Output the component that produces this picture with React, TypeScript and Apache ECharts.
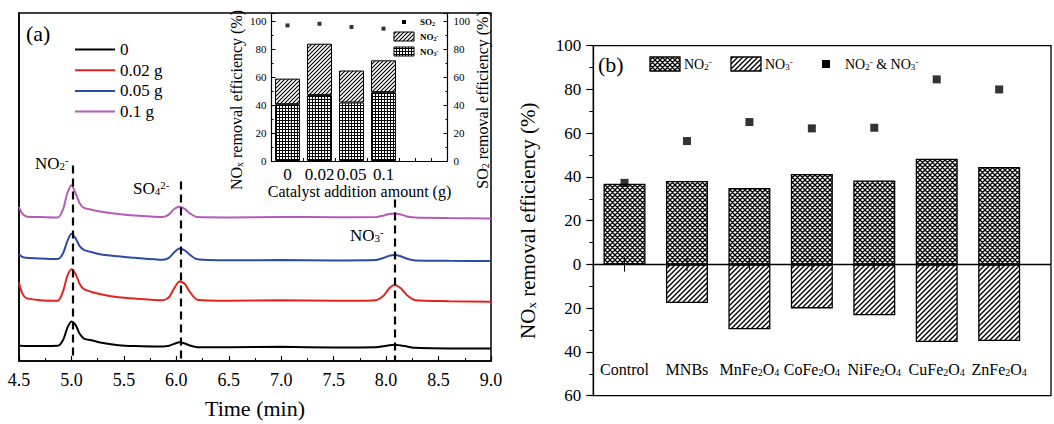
import React, { useEffect, useRef } from 'react';
import * as echarts from 'echarts';

const FONT = "'Liberation Serif', 'Times New Roman', serif";

// ---------------- Panel (a): ion chromatograms ----------------
const timeMin = [4.5, 4.53, 4.57, 4.7, 4.87, 4.92, 4.96, 5.0, 5.04, 5.08, 5.12, 5.2, 5.3, 5.45, 5.6, 5.87, 5.93, 5.98, 6.03, 6.08, 6.13, 6.2, 6.5, 7.0, 7.5, 7.9, 7.98, 8.03, 8.08, 8.14, 8.2, 8.28, 8.6, 9.0];
const signal0 = [15.3, 15.2, 15.1, 15.0, 15.2, 21, 33, 39.7, 36, 27, 22.5, 20.5, 18, 15.8, 15.0, 14.5, 15.2, 17.2, 18.7, 17.5, 15.5, 13.9, 13.8, 14.2, 13.6, 13.8, 14.8, 15.8, 16.3, 15.6, 14.5, 13.2, 12.6, 12.5];
const signal002 = [78.7, 68, 63, 61, 60.5, 70, 85, 92, 87, 77, 72, 69, 66.5, 64, 62.7, 61, 64, 73, 79.7, 77.5, 69, 61.5, 60.5, 60.8, 60.3, 61, 66, 73, 76.3, 73, 66, 61, 60, 59.5];
const signal005 = [107, 104.5, 103.5, 102.8, 102.3, 108, 120, 127.7, 123, 115, 111.5, 109, 106.5, 105, 103.5, 101.5, 103.5, 109, 112.7, 111, 106.5, 102, 101, 101.3, 100.8, 101.2, 103.5, 105.5, 106.3, 105, 102.5, 100.8, 100.5, 100.3];
const signal01 = [154.3, 148, 145, 144.3, 143.8, 152, 168, 176.3, 168, 158, 153.5, 151.5, 149.5, 147.5, 146, 144.3, 147, 152.5, 154.7, 152.5, 148, 144.3, 144, 144.5, 144.2, 144.3, 146, 147.5, 148, 147, 145, 143.8, 143.3, 143];
const traceNames = ['0', '0.02 g', '0.05 g', '0.1 g'];
const traceColors = ['#000000', '#e3231f', '#2d4aa6', '#b45cb8'];
const traceSignals = [signal0, signal002, signal005, signal01];
const peakTimes = [5.01, 6.04, 8.08];
const peakLineTops = [196, 180, 162];
const signalMax = 349;

// ---------------- Inset: removal vs catalyst amount ----------------
const catalystAmounts = ['0', '0.02', '0.05', '0.1'];
const insetNO3 = [40.7, 47.2, 41.9, 49.3];
const insetNO2 = [18.3, 36.8, 22.9, 22.8];
const insetSO2 = [97.1, 98.3, 96.0, 94.8];

// ---------------- Panel (b): different catalysts ----------------
const catalystLabels = ['Control', 'MNBs', 'MnFe{s|2}O{s|4}', 'CoFe{s|2}O{s|4}', 'NiFe{s|2}O{s|4}', 'CuFe{s|2}O{s|4}', 'ZnFe{s|2}O{s|4}'];
const no2Removal = [36.9, 38.2, 34.9, 41.4, 38.4, 48.3, 44.6];
const no3Removal = [0, 17.6, 29.6, 20.1, 23.2, 35.5, 35.0];
const totalRemoval = [37.3, 56.4, 65.1, 62.2, 62.5, 84.6, 80.0];
const errorBars = [3.3, 3, 3, 3, 3, 3, 3];

function makeTile(p: number, lw: number, draw: (ctx: CanvasRenderingContext2D, p: number) => void) {
  const c = document.createElement('canvas');
  c.width = p;
  c.height = p;
  const ctx = c.getContext('2d') as CanvasRenderingContext2D;
  ctx.fillStyle = '#ffffff';
  ctx.fillRect(0, 0, p, p);
  ctx.strokeStyle = '#000000';
  ctx.lineWidth = lw;
  ctx.beginPath();
  draw(ctx, p);
  ctx.stroke();
  return { image: c, repeat: 'repeat', imageWidth: p, imageHeight: p } as any;
}
const drawSlash = (ctx: CanvasRenderingContext2D, p: number) => {
  ctx.moveTo(-1, p + 1); ctx.lineTo(p + 1, -1);
  ctx.moveTo(-1, 1); ctx.lineTo(1, -1);
  ctx.moveTo(p - 1, p + 1); ctx.lineTo(p + 1, p - 1);
};
const drawBack = (ctx: CanvasRenderingContext2D, p: number) => {
  ctx.moveTo(-1, -1); ctx.lineTo(p + 1, p + 1);
  ctx.moveTo(p - 1, -1); ctx.lineTo(p + 1, 1);
  ctx.moveTo(-1, p - 1); ctx.lineTo(1, p + 1);
};
const drawGrid = (ctx: CanvasRenderingContext2D, p: number) => {
  ctx.moveTo(0.5, 0); ctx.lineTo(0.5, p);
  ctx.moveTo(0, 0.5); ctx.lineTo(p, 0.5);
};

const sub = (size: number, bold = false) => ({ fontSize: size, fontFamily: FONT, fontWeight: bold ? 'bold' : 'normal', lineHeight: 4, verticalAlign: 'bottom', fill: '#000', color: '#000' });
const sup = (size: number, bold = false) => ({ fontSize: size, fontFamily: FONT, fontWeight: bold ? 'bold' : 'normal', lineHeight: 4, verticalAlign: 'top', fill: '#000', color: '#000' });

function txt(x: number, y: number, text: string, size: number, opts: any = {}) {
  const bold = !!opts.bold;
  return {
    type: 'text',
    x, y,
    rotation: opts.rotation || 0,
    style: {
      text,
      fontSize: size,
      fontFamily: FONT,
      fontWeight: bold ? 'bold' : 'normal',
      fill: '#000',
      align: opts.align || 'left',
      verticalAlign: 'middle',
      textAlign: opts.align || 'left',
      textVerticalAlign: 'middle',
      rich: { s: sub(Math.round(size * 0.65), bold), p: sup(Math.round(size * 0.65), bold) },
    },
  };
}

export default function App() {
  const ref = useRef<HTMLDivElement>(null);
  useEffect(() => {
    if (!ref.current) return;
    const chart = echarts.init(ref.current, undefined, { renderer: 'svg' });

    const slashB = makeTile(5, 1.4, drawSlash);
    const crossB = makeTile(5, 1.3, (c, p) => { drawSlash(c, p); drawBack(c, p); });
    const slashI = makeTile(4, 1.1, drawSlash);
    const gridI = makeTile(3, 1, drawGrid);

    const axisText = { color: '#000', fontFamily: FONT };
    const lineSeries = traceNames.map((name, k) => ({
      name,
      type: 'line',
      xAxisIndex: 0,
      yAxisIndex: 0,
      data: timeMin.map((t, i) => [t, traceSignals[k][i]]),
      showSymbol: false,
      symbol: 'none',
      smooth: 0.25,
      lineStyle: { color: traceColors[k], width: 2 },
      itemStyle: { color: traceColors[k] },
      emphasis: { disabled: true },
      silent: true,
      z: 3,
      markLine: k === 0 ? {
        silent: true,
        symbol: ['none', 'none'],
        label: { show: false },
        lineStyle: { type: [8, 5], width: 2.2, color: '#000' },
        data: peakTimes.map((t, i) => [{ coord: [t, peakLineTops[i]] }, { coord: [t, 0] }]),
      } : undefined,
    }));

    const option: any = {
      animation: false,
      backgroundColor: '#ffffff',
      textStyle: { fontFamily: FONT, color: '#000' },
      grid: [
        { left: 19, top: 13, width: 472, height: 349, show: true, borderColor: '#000', borderWidth: 1.5, backgroundColor: 'transparent' },
        { left: 271.5, top: 13, width: 176, height: 148, show: false },
        { left: 593.3, top: 45.7, right: -3, height: 350, show: true, borderColor: '#000', borderWidth: 1.3, backgroundColor: 'transparent' },
        { left: 271.5, top: 13, width: 128, height: 148, show: false },
      ],
      legend: [{
        data: traceNames,
        orient: 'vertical',
        left: 70,
        top: 36,
        itemWidth: 40,
        itemHeight: 14,
        itemGap: 3.7,
        icon: 'path://M0,0 L40,0 L40,2 L0,2 Z',
        selectedMode: false,
        textStyle: { fontSize: 17, fontFamily: FONT, color: '#000' },
      }],
      xAxis: [
        {
          gridIndex: 0, type: 'value', min: 4.5, max: 9, interval: 0.5,
          axisLine: { lineStyle: { color: '#000', width: 1.5 } },
          axisTick: { inside: true, length: 5, lineStyle: { color: '#000', width: 1.2 } },
          minorTick: { show: true, splitNumber: 2, length: 3, lineStyle: { color: '#000', width: 1 } },
          axisLabel: { ...axisText, fontSize: 18, margin: 10, formatter: (v: number) => v.toFixed(1) },
          splitLine: { show: false },
          name: 'Time (min)', nameLocation: 'middle', nameGap: 36,
          nameTextStyle: { ...axisText, fontSize: 22 },
        },
        {
          gridIndex: 1, type: 'value', min: 0.5, max: 6, interval: 0.5,
          axisLine: { lineStyle: { color: '#000', width: 1.2 } },
          axisTick: { inside: true, length: 3, lineStyle: { color: '#000' } },
          axisLabel: {
            ...axisText, fontSize: 17, margin: 5,
            formatter: (v: number) => (Number.isInteger(v) && v >= 1 && v <= catalystAmounts.length ? catalystAmounts[v - 1] : ''),
          },
          splitLine: { show: false },
          name: 'Catalyst addition amount (g)', nameLocation: 'middle', nameGap: 22,
          nameTextStyle: { ...axisText, fontSize: 16 },
        },
        {
          gridIndex: 2, type: 'value', min: 0.5, max: 7.83, interval: 0.5,
          axisLine: { show: false, onZero: false },
          axisTick: { show: false },
          splitLine: { show: false },
          axisLabel: {
            ...axisText, fontSize: 16, margin: -34,
            formatter: (v: number) => (Number.isInteger(v) && v >= 1 && v <= catalystLabels.length ? catalystLabels[v - 1] : ''),
            rich: { s: { fontSize: 10, fontFamily: FONT, color: '#000', lineHeight: 4, verticalAlign: 'bottom' } },
          },
        },
        {
          gridIndex: 3, type: 'category', data: catalystAmounts, show: false,
        },
      ],
      yAxis: [
        {
          gridIndex: 0, type: 'value', min: 0, max: signalMax,
          axisLine: { show: true, lineStyle: { color: '#000', width: 1.5 } },
          axisTick: { show: false }, axisLabel: { show: false }, splitLine: { show: false },
        },
        {
          gridIndex: 1, type: 'value', min: 0, max: 106, interval: 20,
          axisLine: { show: true, lineStyle: { color: '#000', width: 1.2 } },
          axisTick: { inside: true, length: 4, lineStyle: { color: '#000' } },
          minorTick: { show: true, splitNumber: 2, length: 2, lineStyle: { color: '#000' } },
          axisLabel: { ...axisText, fontSize: 11, margin: 5, formatter: (v: number) => (v <= 100 ? String(v) : '') },
          splitLine: { show: false },
        },
        {
          gridIndex: 1, type: 'value', min: 0, max: 106, interval: 20, position: 'right',
          axisLine: { show: true, lineStyle: { color: '#000', width: 1.2 } },
          axisTick: { inside: true, length: 4, lineStyle: { color: '#000' } },
          minorTick: { show: true, splitNumber: 2, length: 2, lineStyle: { color: '#000' } },
          axisLabel: { ...axisText, fontSize: 11, margin: 6, formatter: (v: number) => (v <= 100 ? String(v) : '') },
          splitLine: { show: false },
        },
        {
          gridIndex: 2, type: 'value', min: -60, max: 100, interval: 20,
          axisLine: { show: true, onZero: false, lineStyle: { color: '#000', width: 1.3 } },
          axisTick: { inside: false, length: 7, lineStyle: { color: '#000', width: 1.2 } },
          minorTick: { show: true, splitNumber: 2, length: 4, lineStyle: { color: '#000', width: 1 } },
          axisLabel: { ...axisText, fontSize: 17, margin: 12, formatter: (v: number) => String(Math.abs(v)) },
          splitLine: { show: false },
          name: 'NO{s|x} removal efficiency (%)', nameLocation: 'middle', nameGap: 55, nameRotate: 90,
          nameTextStyle: { ...axisText, fontSize: 21, rich: { s: { fontSize: 13, fontFamily: FONT, color: '#000', lineHeight: 4, verticalAlign: 'bottom' } } },
        },
        {
          gridIndex: 3, type: 'value', min: 0, max: 106, show: false,
        },
      ],
      series: [
        ...lineSeries,
        {
          name: 'inset NO3', type: 'bar', xAxisIndex: 3, yAxisIndex: 4, stack: 'inset', barWidth: 25,
          data: insetNO3,
          itemStyle: { color: gridI, borderColor: '#000', borderWidth: 1 },
          emphasis: { disabled: true }, silent: true, z: 4,
        },
        {
          name: 'inset NO2', type: 'bar', xAxisIndex: 3, yAxisIndex: 4, stack: 'inset', barWidth: 25,
          data: insetNO2,
          itemStyle: { color: slashI, borderColor: '#000', borderWidth: 1 },
          emphasis: { disabled: true }, silent: true, z: 4,
        },
        {
          name: 'inset SO2', type: 'scatter', xAxisIndex: 3, yAxisIndex: 4, symbol: 'rect', symbolSize: 4,
          data: insetSO2,
          itemStyle: { color: '#000' }, emphasis: { disabled: true }, silent: true, z: 5,
        },
        {
          name: 'NO2-', type: 'bar', xAxisIndex: 2, yAxisIndex: 3, barGap: '-100%', barWidth: 42,
          data: catalystLabels.map((_, i) => [i + 1, no2Removal[i]]),
          itemStyle: { color: crossB, borderColor: '#000', borderWidth: 1.3 },
          emphasis: { disabled: true }, silent: true, z: 4,
          markLine: {
            silent: true, symbol: ['none', 'none'], label: { show: false },
            lineStyle: { type: 'solid', color: '#000', width: 1.3 },
            data: [{ yAxis: 0 }],
          },
        },
        {
          name: 'NO3-', type: 'bar', xAxisIndex: 2, yAxisIndex: 3, barGap: '-100%', barWidth: 42,
          data: catalystLabels.map((_, i) => [i + 1, -no3Removal[i]]),
          itemStyle: { color: slashB, borderColor: '#000', borderWidth: 1.3 },
          emphasis: { disabled: true }, silent: true, z: 4,
        },
        {
          name: 'error', type: 'custom', xAxisIndex: 2, yAxisIndex: 3, silent: true, z: 6,
          data: catalystLabels.map((_, i) => [i + 1, errorBars[i]]),
          renderItem: (_params: any, api: any) => {
            const x = api.value(0);
            const e = api.value(1);
            const p1 = api.coord([x, -e]);
            const p2 = api.coord([x, e]);
            return { type: 'line', shape: { x1: p1[0], y1: p1[1], x2: p2[0], y2: p2[1] }, style: { stroke: '#000', lineWidth: 1 } };
          },
        },
        {
          name: 'NO2- & NO3-', type: 'scatter', xAxisIndex: 2, yAxisIndex: 3, symbol: 'rect', symbolSize: 8,
          data: catalystLabels.map((_, i) => [i + 1, totalRemoval[i]]),
          itemStyle: { color: '#000' }, emphasis: { disabled: true }, silent: true, z: 7,
        },
      ],
      graphic: [
        txt(26, 33, '(a)', 22),
        txt(35, 163, 'NO{s|2}{p|-}', 17),
        txt(133, 188, 'SO{s|4}{p|2-}', 17),
        txt(350, 235, 'NO{s|3}{p|-}', 17),
        txt(236, 100, 'NO{s|x} removal efficiency (%)', 16, { rotation: Math.PI / 2, align: 'center' }),
        txt(482, 100, 'SO{s|2} removal efficiency (%)', 16, { rotation: Math.PI / 2, align: 'center' }),
        { type: 'rect', shape: { x: 402, y: 20, width: 4, height: 4 }, style: { fill: '#000' } },
        txt(420, 22, 'SO{s|2}', 9, { bold: true }),
        { type: 'rect', shape: { x: 394, y: 32, width: 20, height: 9 }, style: { fill: slashI, stroke: '#000', lineWidth: 1 } },
        txt(420, 37, 'NO{s|2}{p|-}', 9, { bold: true }),
        { type: 'rect', shape: { x: 394, y: 47, width: 20, height: 9 }, style: { fill: gridI, stroke: '#000', lineWidth: 1 } },
        txt(420, 52, 'NO{s|3}{p|-}', 9, { bold: true }),
        txt(598, 64, '(b)', 22),
        { type: 'rect', shape: { x: 650, y: 57, width: 30, height: 14 }, style: { fill: crossB, stroke: '#000', lineWidth: 1.3 } },
        txt(684, 64, 'NO{s|2}{p|-}', 14),
        { type: 'rect', shape: { x: 731, y: 57, width: 30, height: 14 }, style: { fill: slashB, stroke: '#000', lineWidth: 1.3 } },
        txt(765, 64, 'NO{s|3}{p|-}', 14),
        { type: 'rect', shape: { x: 822, y: 60, width: 8, height: 8 }, style: { fill: '#000' } },
        txt(845, 64, 'NO{s|2}{p|-} & NO{s|3}{p|-}', 14),
      ],
    };

    chart.setOption(option);
    return () => chart.dispose();
  }, []);

  return <div ref={ref} style={{ position: 'fixed', left: 0, top: 0, width: 1054, height: 424, background: '#fff' }} />;
}
